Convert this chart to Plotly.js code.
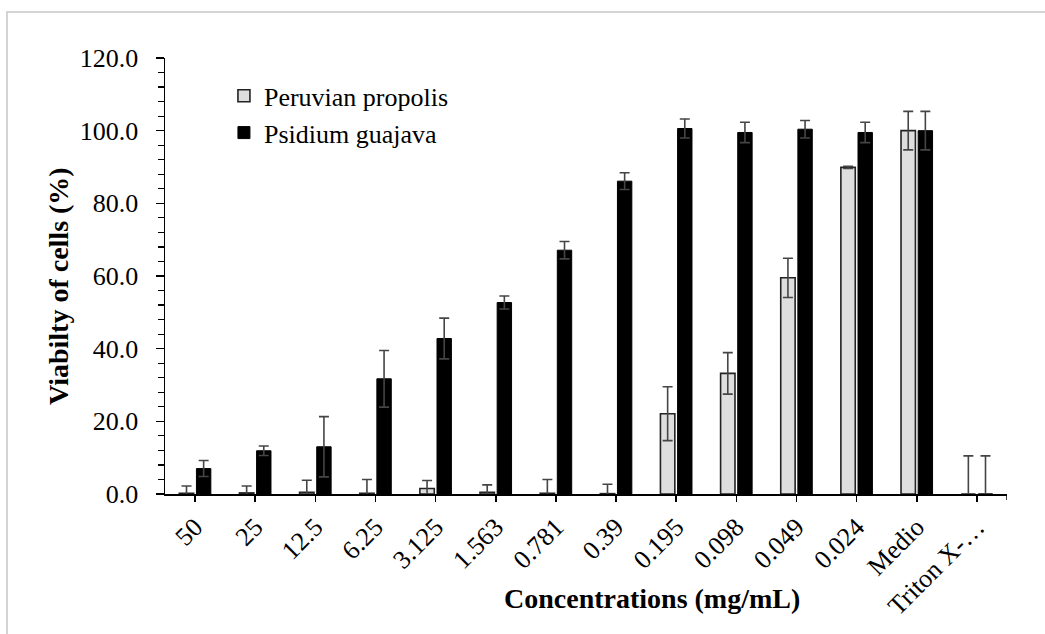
<!DOCTYPE html>
<html>
<head>
<meta charset="utf-8">
<script src="https://cdn.plot.ly/plotly-3.0.1.min.js"></script>
<style>html,body{margin:0;padding:0;background:#fff;}#chart{width:1045px;height:634px;}</style>
</head>
<body>
<div id="chart"></div>
<script>
const categories = ["50","25","12.5","6.25","3.125","1.563","0.781","0.39","0.195","0.098","0.049","0.024","Medio","Triton X-…"];
const propolisValues = [0.2, 0.3, 0.5, 0.2, 1.5, 0.5, 0.2, 0.1, 22.1, 33.2, 59.5, 89.9, 100.0, 0.0];
const propolisErrors = [2.0, 1.9, 3.3, 3.8, 2.2, 2.0, 3.8, 2.6, 7.4, 5.7, 5.4, 0.3, 5.3, 10.5];
const guajavaValues = [7.0, 11.9, 13.0, 31.7, 42.8, 52.7, 67.1, 86.1, 100.6, 99.5, 100.4, 99.5, 100.0, 0.0];
const guajavaErrors = [2.2, 1.3, 8.3, 7.8, 5.6, 1.8, 2.4, 2.3, 2.6, 2.8, 2.4, 2.8, 5.3, 10.5];
const seriesNames = ["Peruvian propolis", "Psidium guajava"];

const FONT = "Liberation Serif";
const serifName = s => "<span style='font-family:Liberation Serif'>" + s + "</span>";
const errStyle = {type: "data", visible: true, color: "#454545", thickness: 1.6, width: 5};

const traces = [
  {
    type: "bar", name: serifName(seriesNames[0]), x: categories, y: propolisValues,
    marker: {color: "#dedede", line: {color: "#222", width: 1.6}},
    error_y: Object.assign({array: propolisErrors}, errStyle)
  },
  {
    type: "bar", name: serifName(seriesNames[1]), x: categories, y: guajavaValues,
    marker: {color: "#000000", line: {color: "#000", width: 1}},
    error_y: Object.assign({array: guajavaErrors}, errStyle)
  }
];

const layout = {
  width: 1045, height: 634,
  margin: {l: 165, r: 38, t: 58, b: 140},
  paper_bgcolor: "#fff", plot_bgcolor: "#fff",
  font: {family: FONT, size: 26, color: "#000"},
  barmode: "group", bargap: 0.43, bargroupgap: 0.16,
  showlegend: true,
  legend: {x: 0.07, y: 0.967, xanchor: "left", yanchor: "top", bgcolor: "rgba(0,0,0,0)",
           font: {family: FONT, size: 26, color: "#000"}, tracegroupgap: 0},
  xaxis: {
    type: "category", range: [-0.5, 13.5], tickangle: -45,
    showline: true, linecolor: "#000", linewidth: 1.5,
    ticks: "outside", ticklen: 6, tickcolor: "#000", tickwidth: 1.5,
    showgrid: false, zeroline: false, automargin: false,
    tickfont: {family: FONT, size: 26, color: "#000"}
  },
  yaxis: {
    range: [0, 120], dtick: 20, tickformat: ".1f",
    showline: true, linecolor: "#000", linewidth: 1.5,
    ticks: "outside", ticklen: 8, tickcolor: "#000", tickwidth: 1.5,
    minor: {dtick: 4, ticks: "outside", ticklen: 6, tickcolor: "#000", tickwidth: 1.2},
    showgrid: false, zeroline: false, automargin: false, ticklabelstandoff: 12,
    tickfont: {family: FONT, size: 26, color: "#000"}
  },
  annotations: [
    {text: "<b>Concentrations (mg/mL)</b>", xref: "paper", yref: "paper",
     x: (652 - 165) / 842, y: (494 - 598) / 436, xanchor: "center", yanchor: "middle",
     showarrow: false, font: {family: FONT, size: 28, color: "#000"}},
    {text: "<b>Viabilty of cells (%)</b>", xref: "paper", yref: "paper",
     x: (58 - 165) / 842, y: (494 - 286) / 436, xanchor: "center", yanchor: "middle",
     textangle: -90, showarrow: false, font: {family: FONT, size: 28, color: "#000"}}
  ],
  shapes: [
    {type: "line", xref: "x", yref: "paper", x0: 13.5, x1: 13.5, y0: 0, y1: -6 / 436,
     line: {color: "#000", width: 1.5}},
    {type: "rect", xref: "paper", yref: "paper", x0: (7 - 165) / 842, x1: (1060 - 165) / 842,
     y0: (494 - 660) / 436, y1: (494 - 12) / 436, line: {color: "#d4d4d4", width: 2}, layer: "below"}
  ]
};

Plotly.newPlot("chart", traces, layout, {displayModeBar: false, staticPlot: true});
</script>
</body>
</html>
